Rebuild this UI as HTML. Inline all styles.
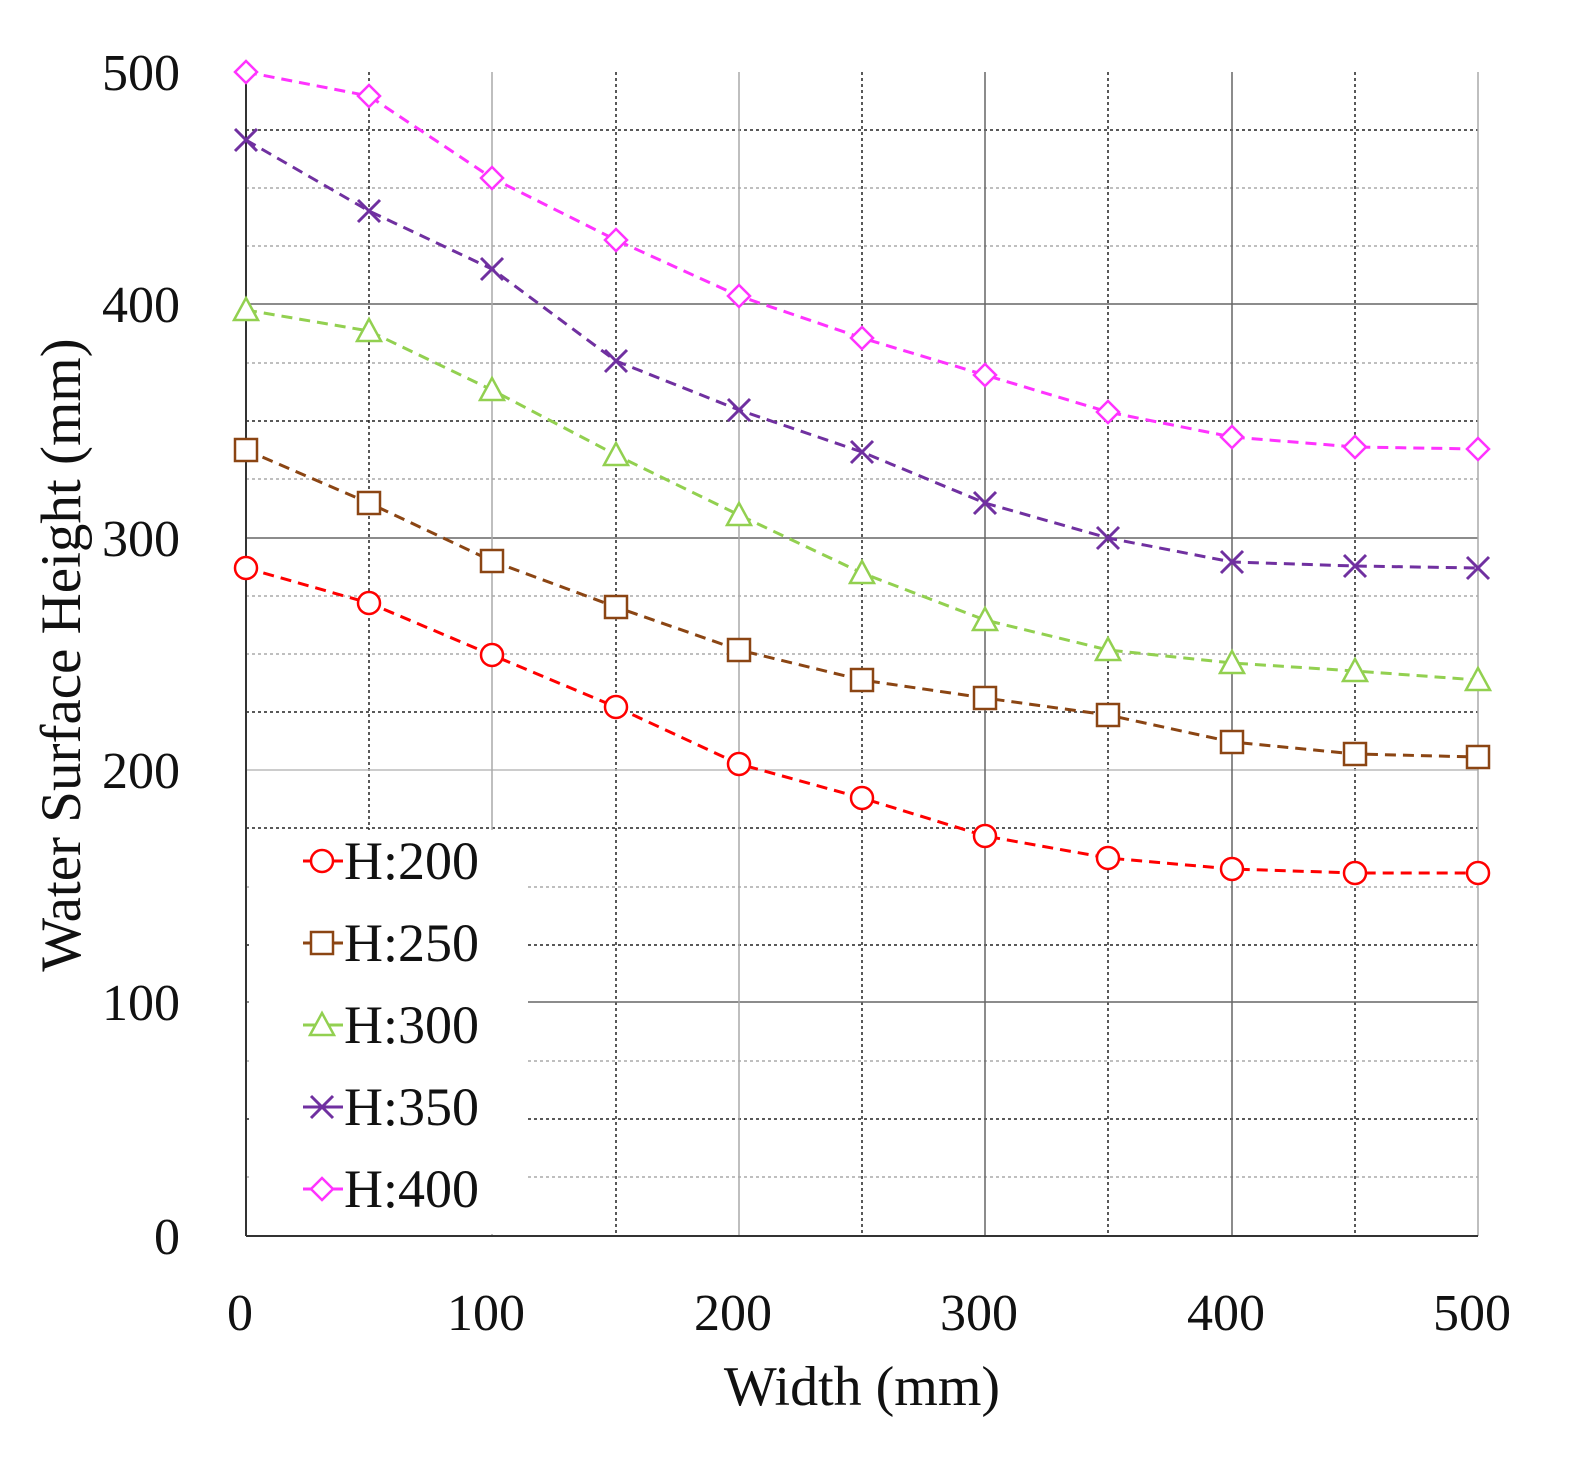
<!DOCTYPE html>
<html><head><meta charset="utf-8"><style>html,body{margin:0;padding:0;background:#fff}svg{display:block}</style></head><body>
<svg width="1577" height="1458" viewBox="0 0 1577 1458" xmlns="http://www.w3.org/2000/svg" font-family="Liberation Serif, serif">
<rect width="1577" height="1458" fill="#fff"/>
<g id="grid">
<g stroke="#aaa" stroke-width="1.5" stroke-dasharray="3,3">
<line x1="246" x2="1478" y1="188" y2="188"/><line x1="246" x2="1478" y1="246" y2="246"/>
<line x1="246" x2="1478" y1="363" y2="363"/><line x1="246" x2="1478" y1="479" y2="479"/>
<line x1="246" x2="1478" y1="596" y2="596"/><line x1="246" x2="1478" y1="654" y2="654"/>
<line x1="246" x2="1478" y1="887" y2="887"/>
<line x1="246" x2="1478" y1="1061" y2="1061"/><line x1="246" x2="1478" y1="1177" y2="1177"/>
</g>
<g stroke="#222" stroke-width="1.5" stroke-dasharray="3,3">
<line x1="246" x2="1478" y1="130" y2="130"/><line x1="246" x2="1478" y1="421" y2="421"/>
<line x1="246" x2="1478" y1="712" y2="712"/><line x1="246" x2="1478" y1="828" y2="828"/>
<line x1="246" x2="1478" y1="945" y2="945"/><line x1="246" x2="1478" y1="1119" y2="1119"/>
<line x1="369" x2="369" y1="72" y2="1236"/><line x1="616" x2="616" y1="72" y2="1236"/>
<line x1="862" x2="862" y1="72" y2="1236"/><line x1="1108" x2="1108" y1="72" y2="1236"/>
<line x1="1355" x2="1355" y1="72" y2="1236"/>
</g>
<g stroke="#666" stroke-width="1.5">
<line x1="246" x2="1478" y1="304" y2="304"/><line x1="246" x2="1478" y1="538" y2="538"/>
<line x1="246" x2="1478" y1="770" y2="770" stroke="#bbb"/><line x1="246" x2="1478" y1="1002" y2="1002"/>
<line x1="492" x2="492" y1="72" y2="1236" stroke="#aaa"/><line x1="739" x2="739" y1="72" y2="1236" stroke="#aaa"/>
<line x1="985" x2="985" y1="72" y2="1236"/><line x1="1232" x2="1232" y1="72" y2="1236"/>
<line x1="1478" x2="1478" y1="72" y2="1236" stroke="#aaa"/>
</g>
</g>
<rect x="249" y="830" width="279" height="404" fill="#fff"/>
<line x1="246" x2="246" y1="72" y2="1236" stroke="#333" stroke-width="2"/>
<line x1="246" x2="1478" y1="1236" y2="1236" stroke="#333" stroke-width="2"/>
<g font-size="52" fill="#111" text-anchor="end">
<text x="180" y="90">500</text><text x="180" y="322">400</text><text x="180" y="556">300</text>
<text x="180" y="788">200</text><text x="180" y="1020">100</text><text x="180" y="1254">0</text>
</g>
<g font-size="52" fill="#111" text-anchor="middle">
<text x="240" y="1330">0</text><text x="486" y="1330">100</text><text x="733" y="1330">200</text>
<text x="979" y="1330">300</text><text x="1226" y="1330">400</text><text x="1472" y="1330">500</text>
<text x="862" y="1405" font-size="56">Width (mm)</text>
<text transform="translate(80,655) rotate(-90)" font-size="57">Water Surface Height (mm)</text>
</g>
<g fill="none" stroke-width="3" stroke-dasharray="11,7">
<polyline stroke="#ff33ff" points="246,72 369,96 492,178 616,240 739,296 862,338 985,375 1108,412 1232,437 1355,447 1478,449"/>
<polyline stroke="#7030a0" points="246,140 369,211 492,269 616,361 739,410 862,452 985,503 1108,538 1232,562 1355,566 1478,568"/>
<polyline stroke="#92d050" points="246,310 369,331 492,390 616,455 739,515 862,573 985,620 1108,650 1232,663 1355,671 1478,680"/>
<polyline stroke="#8b4513" points="246,450 369,503 492,561 616,607 739,650 862,680 985,698 1108,715 1232,742 1355,754 1478,757"/>
<polyline stroke="#ff0000" points="246,568 369,603 492,655 616,707 739,764 862,798 985,836 1108,858 1232,869 1355,873 1478,873"/>
</g>
<defs>
<g id="c"><circle r="11" fill="#fff" stroke="#ff0000" stroke-width="2.5"/></g>
<g id="s"><rect x="-11" y="-11" width="22" height="22" fill="#fff" stroke="#8b4513" stroke-width="2.5"/></g>
<g id="t"><path d="M0,-12 L12,10 L-12,10Z" fill="#fff" stroke="#92d050" stroke-width="2.5"/></g>
<g id="x"><path d="M-11,-11 L11,11 M-11,11 L11,-11" stroke="#7030a0" stroke-width="3"/></g>
<g id="d"><path d="M0,-11 L11,0 L0,11 L-11,0Z" fill="#fff" stroke="#ff33ff" stroke-width="2.5"/></g>
</defs>
<g>
<use href="#d" x="246" y="72"/><use href="#d" x="369" y="96"/><use href="#d" x="492" y="178"/><use href="#d" x="616" y="240"/><use href="#d" x="739" y="296"/><use href="#d" x="862" y="338"/><use href="#d" x="985" y="375"/><use href="#d" x="1108" y="412"/><use href="#d" x="1232" y="437"/><use href="#d" x="1355" y="447"/><use href="#d" x="1478" y="449"/>
<use href="#x" x="246" y="140"/><use href="#x" x="369" y="211"/><use href="#x" x="492" y="269"/><use href="#x" x="616" y="361"/><use href="#x" x="739" y="410"/><use href="#x" x="862" y="452"/><use href="#x" x="985" y="503"/><use href="#x" x="1108" y="538"/><use href="#x" x="1232" y="562"/><use href="#x" x="1355" y="566"/><use href="#x" x="1478" y="568"/>
<use href="#t" x="246" y="310"/><use href="#t" x="369" y="331"/><use href="#t" x="492" y="390"/><use href="#t" x="616" y="455"/><use href="#t" x="739" y="515"/><use href="#t" x="862" y="573"/><use href="#t" x="985" y="620"/><use href="#t" x="1108" y="650"/><use href="#t" x="1232" y="663"/><use href="#t" x="1355" y="671"/><use href="#t" x="1478" y="680"/>
<use href="#s" x="246" y="450"/><use href="#s" x="369" y="503"/><use href="#s" x="492" y="561"/><use href="#s" x="616" y="607"/><use href="#s" x="739" y="650"/><use href="#s" x="862" y="680"/><use href="#s" x="985" y="698"/><use href="#s" x="1108" y="715"/><use href="#s" x="1232" y="742"/><use href="#s" x="1355" y="754"/><use href="#s" x="1478" y="757"/>
<use href="#c" x="246" y="568"/><use href="#c" x="369" y="603"/><use href="#c" x="492" y="655"/><use href="#c" x="616" y="707"/><use href="#c" x="739" y="764"/><use href="#c" x="862" y="798"/><use href="#c" x="985" y="836"/><use href="#c" x="1108" y="858"/><use href="#c" x="1232" y="869"/><use href="#c" x="1355" y="873"/><use href="#c" x="1478" y="873"/>
</g>
<g stroke-width="3">
<line x1="303" x2="343" y1="861" y2="861" stroke="#ff0000"/><use href="#c" x="322" y="861"/>
<line x1="303" x2="343" y1="943" y2="943" stroke="#8b4513"/><use href="#s" x="322" y="943"/>
<line x1="303" x2="343" y1="1025" y2="1025" stroke="#92d050"/><use href="#t" x="322" y="1025"/>
<line x1="303" x2="343" y1="1107" y2="1107" stroke="#7030a0"/><use href="#x" x="322" y="1107"/>
<line x1="303" x2="343" y1="1189" y2="1189" stroke="#ff33ff"/><use href="#d" x="322" y="1189"/>
</g>
<g font-size="54" fill="#111">
<text x="344" y="879">H:200</text><text x="344" y="961">H:250</text><text x="344" y="1043">H:300</text>
<text x="344" y="1125">H:350</text><text x="344" y="1207">H:400</text>
</g>
</svg>
</body></html>
